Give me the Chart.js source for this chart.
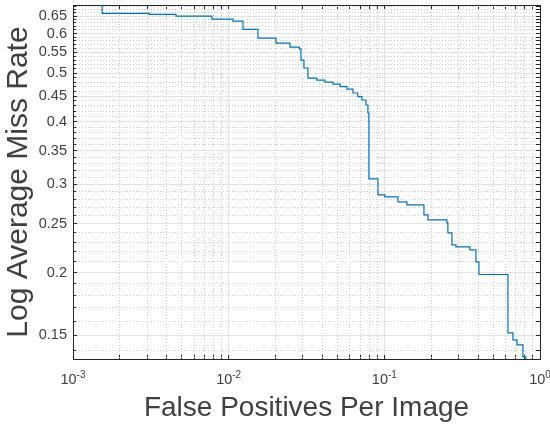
<!DOCTYPE html>
<html>
<head>
<meta charset="utf-8">
<script src="https://cdn.jsdelivr.net/npm/chart.js@4.4.0/dist/chart.umd.min.js"></script>
<style>
  html, body { margin: 0; padding: 0; background: #fff; }
  #wrap { width: 550px; height: 428px; }
</style>
</head>
<body>
<div id="wrap"><canvas id="myChart"></canvas></div>
<script>
// miss rate curve (step starts)
var fppi = [0.001, 0.00154, 0.00308, 0.00459, 0.00781, 0.01066, 0.01236, 0.01542, 0.02013, 0.02476,
  0.0285, 0.02912, 0.03045, 0.03229, 0.0369, 0.0415, 0.04677, 0.052, 0.05754, 0.06286,
  0.0675, 0.07178, 0.07621, 0.07847, 0.0796, 0.091, 0.1009, 0.1223, 0.1397, 0.1796,
  0.1905, 0.2523, 0.256, 0.2718, 0.2884, 0.3548, 0.3875, 0.4052, 0.6223, 0.67,
  0.711, 0.777, 0.812, 1.0];
var missRate = [0.75, 0.658, 0.655, 0.65, 0.641, 0.635, 0.6115, 0.5875, 0.574, 0.5636,
  0.5585, 0.531, 0.512, 0.4888, 0.4844, 0.48, 0.4756, 0.47, 0.4648, 0.4564,
  0.449, 0.442, 0.432, 0.4163, 0.3075, 0.2857, 0.2831, 0.2767, 0.2729, 0.2606,
  0.2547, 0.2512, 0.24, 0.2271, 0.225, 0.2219, 0.21, 0.1982, 0.1515, 0.1467,
  0.1434, 0.1357, 0.13, 0.13];

var xTickValues = [0.001, 0.01, 0.1, 1];
var xTickBase = '10';
var xTickExponents = ['-3', '-2', '-1', '0'];
var yTickValues = [0.15, 0.2, 0.25, 0.3, 0.35, 0.4, 0.45, 0.5, 0.55, 0.6, 0.65];
var yTickLabels = ['0.15', '0.2', '0.25', '0.3', '0.35', '0.4', '0.45', '0.5', '0.55', '0.6', '0.65'];

var xMin = 0.001, xMax = 1, yMin = 0.1344, yMax = 0.684;

// minor ticks: 1..9 per decade on x, every 0.01 on y
var xAll = [];
[0.001, 0.01, 0.1].forEach(function(d) {
  for (var k = 1; k <= 9; k++) xAll.push(d * k);
});
xAll.push(1);
var yAll = [];
for (var k = 14; k <= 68; k++) yAll.push(k / 100);

function findIdx(list, v) {
  for (var i = 0; i < list.length; i++) {
    if (Math.abs(list[i] - v) / list[i] < 1e-6) return i;
  }
  return -1;
}
function isMajor(list, ctx) {
  return ctx.tick ? findIdx(list, ctx.tick.value) >= 0 : false;
}

var axisColor = '#262626';
var textColor = '#404040';
var majorGrid = '#e3e3e3';
var minorGrid = '#cdcdcd';
var none = 'rgba(0,0,0,0)';
var fontFamily = '"Liberation Sans", Arial, Helvetica, sans-serif';
Chart.defaults.font.family = fontFamily;

// x tick labels as 10 with a raised exponent, placed by the x scale
var powerLabels = {
  id: 'powerLabels',
  afterDraw: function(chart) {
    var s = chart.scales.x, c = chart.ctx;
    c.save();
    c.fillStyle = textColor;
    c.textBaseline = 'alphabetic';
    c.textAlign = 'left';
    xTickValues.forEach(function(v, i) {
      var px = s.getPixelForValue(v);
      c.font = '14.5px ' + fontFamily;
      var w1 = c.measureText(xTickBase).width;
      c.font = '10px ' + fontFamily;
      var w2 = c.measureText(xTickExponents[i]).width;
      var x0 = px - (w1 + w2) / 2;
      c.font = '14.5px ' + fontFamily;
      c.fillText(xTickBase, x0, s.top + 25);
      c.font = '10px ' + fontFamily;
      c.fillText(xTickExponents[i], x0 + w1, s.top + 19);
    });
    c.restore();
  }
};

var ctx = document.getElementById('myChart');
var chart = new Chart(ctx, {
  type: 'line',
  data: {
    datasets: [{
      data: fppi.map(function(x, i) { return {x: x, y: missRate[i]}; }),
      borderColor: '#0072BD',
      borderWidth: 1.2,
      pointRadius: 0,
      stepped: true,
      fill: false,
      xAxisID: 'x',
      yAxisID: 'y'
    }]
  },
  plugins: [powerLabels],
  options: {
    responsive: true,
    maintainAspectRatio: false,
    animation: false,
    layout: { padding: { top: 5, right: 10, left: 0, bottom: 0 } },
    plugins: { legend: { display: false }, tooltip: { enabled: false } },
    scales: {
      x: {
        type: 'logarithmic',
        position: 'bottom',
        min: xMin, max: xMax,
        afterBuildTicks: function(s) { s.ticks = xAll.map(function(v) { return {value: v}; }); },
        afterFit: function(s) { s.height = 69; s.paddingLeft = 0; s.paddingRight = 0; },
        ticks: {
          autoSkip: false, maxRotation: 0, minRotation: 0, padding: 15,
          color: textColor, font: { size: 14.5 },
          callback: function() { return ''; }
        },
        grid: {
          color: function(c) { return isMajor(xTickValues, c) ? majorGrid : none; },
          drawTicks: true, tickLength: -4, tickColor: axisColor, tickWidth: 1
        },
        border: { color: axisColor, width: 1 },
        title: { display: true, text: 'False Positives Per Image', color: textColor,
          font: { size: 28 }, padding: { top: 0, bottom: 3 } }
      },
      x2: {
        type: 'logarithmic',
        position: 'top',
        min: xMin, max: xMax,
        afterBuildTicks: function(s) { s.ticks = xAll.map(function(v) { return {value: v}; }); },
        afterFit: function(s) { s.height = 0; s.paddingLeft = 0; s.paddingRight = 0; },
        ticks: { display: false, autoSkip: false },
        grid: {
          color: function(c) { return isMajor(xTickValues, c) ? none : minorGrid; },
          drawTicks: true, tickLength: -4, tickColor: axisColor, tickWidth: 1
        },
        border: { color: axisColor, width: 1, dash: [1, 2] }
      },
      y: {
        type: 'logarithmic',
        position: 'left',
        min: yMin, max: yMax,
        afterBuildTicks: function(s) { s.ticks = yAll.map(function(v) { return {value: v}; }); },
        afterFit: function(s) { s.width = 73; s.paddingTop = 0; s.paddingBottom = 0; },
        ticks: {
          autoSkip: false, padding: 10,
          color: textColor, font: { size: 14.5 },
          callback: function(v) { var i = findIdx(yTickValues, v); return i >= 0 ? yTickLabels[i] : ''; }
        },
        grid: {
          color: function(c) { return isMajor(yTickValues, c) ? majorGrid : none; },
          drawTicks: true, tickLength: -4, tickColor: axisColor, tickWidth: 1
        },
        border: { color: axisColor, width: 1 },
        title: { display: true, text: 'Log Average Miss Rate', color: textColor,
          font: { size: 30 }, padding: { top: 1, bottom: 0 } }
      },
      y2: {
        type: 'logarithmic',
        position: 'right',
        min: yMin, max: yMax,
        afterBuildTicks: function(s) { s.ticks = yAll.map(function(v) { return {value: v}; }); },
        afterFit: function(s) { s.width = 0; s.paddingTop = 0; s.paddingBottom = 0; },
        ticks: { display: false, autoSkip: false },
        grid: {
          color: function(c) { return isMajor(yTickValues, c) ? none : minorGrid; },
          drawTicks: true, tickLength: -4, tickColor: axisColor, tickWidth: 1
        },
        border: { color: axisColor, width: 1, dash: [1, 2] }
      }
    }
  }
});
</script>
</body>
</html>
